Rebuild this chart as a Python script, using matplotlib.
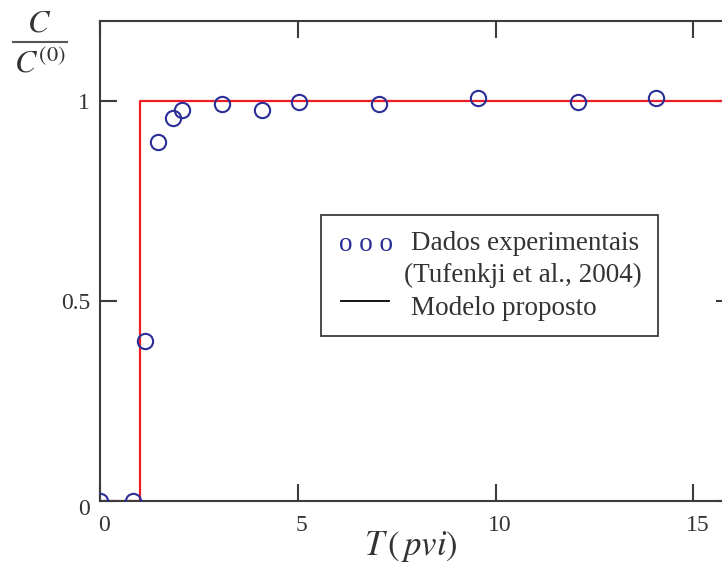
import matplotlib
matplotlib.use("Agg")
import matplotlib.pyplot as plt
import matplotlib.transforms as mtransforms
from matplotlib.lines import Line2D
from matplotlib.patches import Rectangle

plt.rcParams["font.family"] = ["Liberation Serif", "DejaVu Serif"]
plt.rcParams["mathtext.fontset"] = "stix"

# experimental data (Tufenkji et al., 2004)
t_exp = [0.0, 0.83, 1.15, 1.46, 1.85, 2.07, 3.08, 4.09, 5.04, 7.05, 9.56, 12.08, 14.06]
c_exp = [0.0, 0.0, 0.40, 0.897, 0.957, 0.977, 0.992, 0.977, 0.997, 0.992, 1.007, 0.998, 1.007]

# proposed model (step)
t_mod = [0.0, 1.0, 1.0, 16.0]
c_mod = [0.0, 0.0, 1.0, 1.0]

xticks = [0, 5, 10, 15]
yticks = [0, 0.5, 1]
ytick_labels = ["0", "0.5", "1"]

W, H = 722, 568
fig = plt.figure(figsize=(W / 100, H / 100), dpi=100)
ax = fig.add_axes([100 / W, 67 / H, 633 / W, 480 / H])

spine_col = "#3c3c3c"
txt_col = "#333333"
ax.plot(t_mod, c_mod, color="#ee1c25", lw=1.6, zorder=2)
ax.plot(t_exp, c_exp, "o", mfc="none", mec="#2a2e96", mew=1.5, ms=11, zorder=3)

ax.set_xlim(0, 16)
ax.set_ylim(0, 1.2)
ax.set_xticks(xticks)
ax.set_yticks(yticks)
ax.set_yticklabels(ytick_labels)

for s in ax.spines.values():
    s.set_color(spine_col)
    s.set_linewidth(1.5)

ax.tick_params(direction="in", length=12, width=1.5, color=spine_col,
               top=True, right=True, labelsize=17, labelcolor=txt_col)
ax.tick_params(axis="x", pad=10)
ax.tick_params(axis="y", pad=7)

# small offsets of the tick labels, as in the original
shift_x = mtransforms.ScaledTranslation(4 / 100, 0, fig.dpi_scale_trans)
for lab in ax.get_xticklabels():
    lab.set_transform(lab.get_transform() + shift_x)
lab0 = ax.get_yticklabels()[0]
lab0.set_transform(lab0.get_transform() + mtransforms.ScaledTranslation(0, -6 / 100, fig.dpi_scale_trans))

# axis titles
fig.text(411 / W, 1 - 547 / H, r"$T\,(\,pvi)$", fontsize=25,
         ha="center", va="center", color=txt_col)
fig.text(39 / W, 1 - 24 / H, r"$C$", fontsize=23, ha="center", va="center", color=txt_col)
fig.add_artist(Line2D([13 / W, 67 / W], [1 - 42 / H, 1 - 42 / H], transform=fig.transFigure,
                      color="#555555", lw=1.5))
fig.text(40 / W, 1 - 64 / H, r"$C^{(0)}$", fontsize=23, ha="center", va="center", color=txt_col)

# legend drawn by hand
fig.add_artist(Rectangle((321 / W, 1 - 336 / H), 337 / W, 121 / H, transform=fig.transFigure,
                         fill=False, ec=spine_col, lw=1.3))
fig.text(366 / W, 1 - 245 / H, "o o o", fontsize=19.5, color="#2a2e96", ha="center", va="center")
fig.text(411 / W, 1 - 243 / H, "Dados experimentais", fontsize=19.5, color=txt_col, va="center")
fig.text(404 / W, 1 - 275 / H, "(Tufenkji et al., 2004)", fontsize=19.5, color=txt_col, va="center")
fig.add_artist(Line2D([341 / W, 389 / W], [1 - 301 / H, 1 - 301 / H], transform=fig.transFigure,
                      color="black", lw=1.3))
fig.text(411 / W, 1 - 308 / H, "Modelo proposto", fontsize=19.5, color=txt_col, va="center")

fig.savefig("out.png", dpi=100)
